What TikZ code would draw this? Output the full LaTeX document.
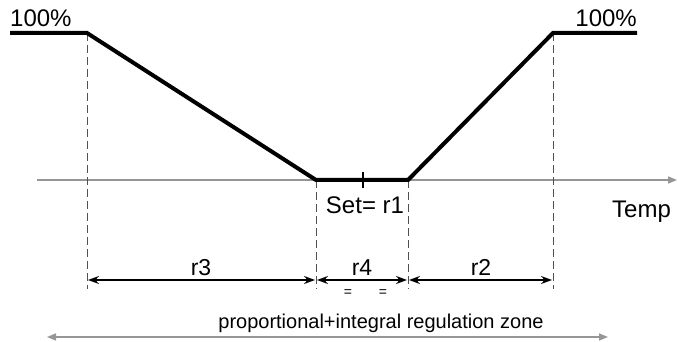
\documentclass[tikz,border=0pt]{standalone}
\usepackage{fontspec}
\setmainfont{Liberation Sans}
\usepackage{xcolor}
\definecolor{axisGray}{RGB}{150,150,150}
\definecolor{guideGray}{RGB}{80,80,80}
\usetikzlibrary{arrows.meta,positioning}
\tikzset{
  curve/.style={line width=4pt, black, line join=miter},
  axisline/.style={line width=1.5pt, axisGray, -{Triangle[length=9pt,width=7pt]}},
  zoneline/.style={line width=1.5pt, axisGray, {Triangle[length=9pt,width=7pt]}-{Triangle[length=9pt,width=7pt]}},
  guide/.style={line width=0.9pt, guideGray, dash pattern=on 8pt off 4pt},
  dimline/.style={line width=1.5pt, black, {Stealth[length=11pt,width=8pt]}-{Stealth[length=11pt,width=8pt]}, shorten <=1pt, shorten >=1pt},
  lbl/.style={inner sep=0pt, font=\fontsize{24}{28}\selectfont},
  dimlbl/.style={inner sep=0pt, anchor=base, font=\fontsize{23}{27}\selectfont},
  eqlbl/.style={inner sep=0pt, font=\fontsize{14}{16}\selectfont},
  zonelbl/.style={inner sep=0pt, anchor=base, font=\fontsize{20}{24}\selectfont},
}
\begin{document}
\begin{tikzpicture}[x=1pt, y=-1pt]
  \useasboundingbox (0,0) rectangle (678,342);
  \coordinate (l0) at (10,33);
  \coordinate (l1) at (87,33);
  \coordinate (s1) at (316,180);
  \coordinate (s2) at (408,180);
  \coordinate (h1) at (553,33);
  \coordinate (h2) at (637,33);
  \coordinate (set) at (363,180);
  \coordinate (ax0) at (37,180);
  \coordinate (ax1) at (677,180);
  \coordinate (d1) at (87,280);
  \coordinate (d2) at (316,280);
  \coordinate (d3) at (408,280);
  \coordinate (d4) at (553,280);
  \coordinate (z0) at (47,337);
  \coordinate (z1) at (608,337);

  \draw[axisline] (ax0) -- (ax1);
  \draw[guide] (l1) -- (87,289);
  \draw[guide] (s1) -- (316,289);
  \draw[guide] (s2) -- (408,289);
  \draw[guide] (h1) -- (553,289);
  \draw[curve] (l0) -- (l1) -- (s1) -- (s2) -- (h1) -- (h2);
  \draw[line width=1.2pt] ([yshift=8pt]set) -- ([yshift=-8pt]set);

  \node[lbl, anchor=base west] (topL) at (10,27) {100\%};
  \node[lbl, anchor=base east] (topR) at (637,27) {100\%};
  \node[lbl, anchor=base] (setp) at (365,214) {Set= r1};
  \node[lbl, anchor=base west] (temp) at (612,218) {Temp};

  \draw[dimline] (d1) -- (d2);
  \draw[dimline] (d2) -- (d3);
  \draw[dimline] (d3) -- (d4);
  \node[dimlbl] (r3) at (201,275) {r3};
  \node[dimlbl] (r4) at (362,275) {r4};
  \node[dimlbl] (r2) at (481,275) {r2};
  \node[eqlbl] (eqA) at (348,293) {=};
  \node[eqlbl] (eqB) at (383,293) {=};

  \draw[zoneline] (z0) -- (z1);
  \node[zonelbl] (zone) at (381,328) {proportional+integral regulation zone};
\end{tikzpicture}
\end{document}
